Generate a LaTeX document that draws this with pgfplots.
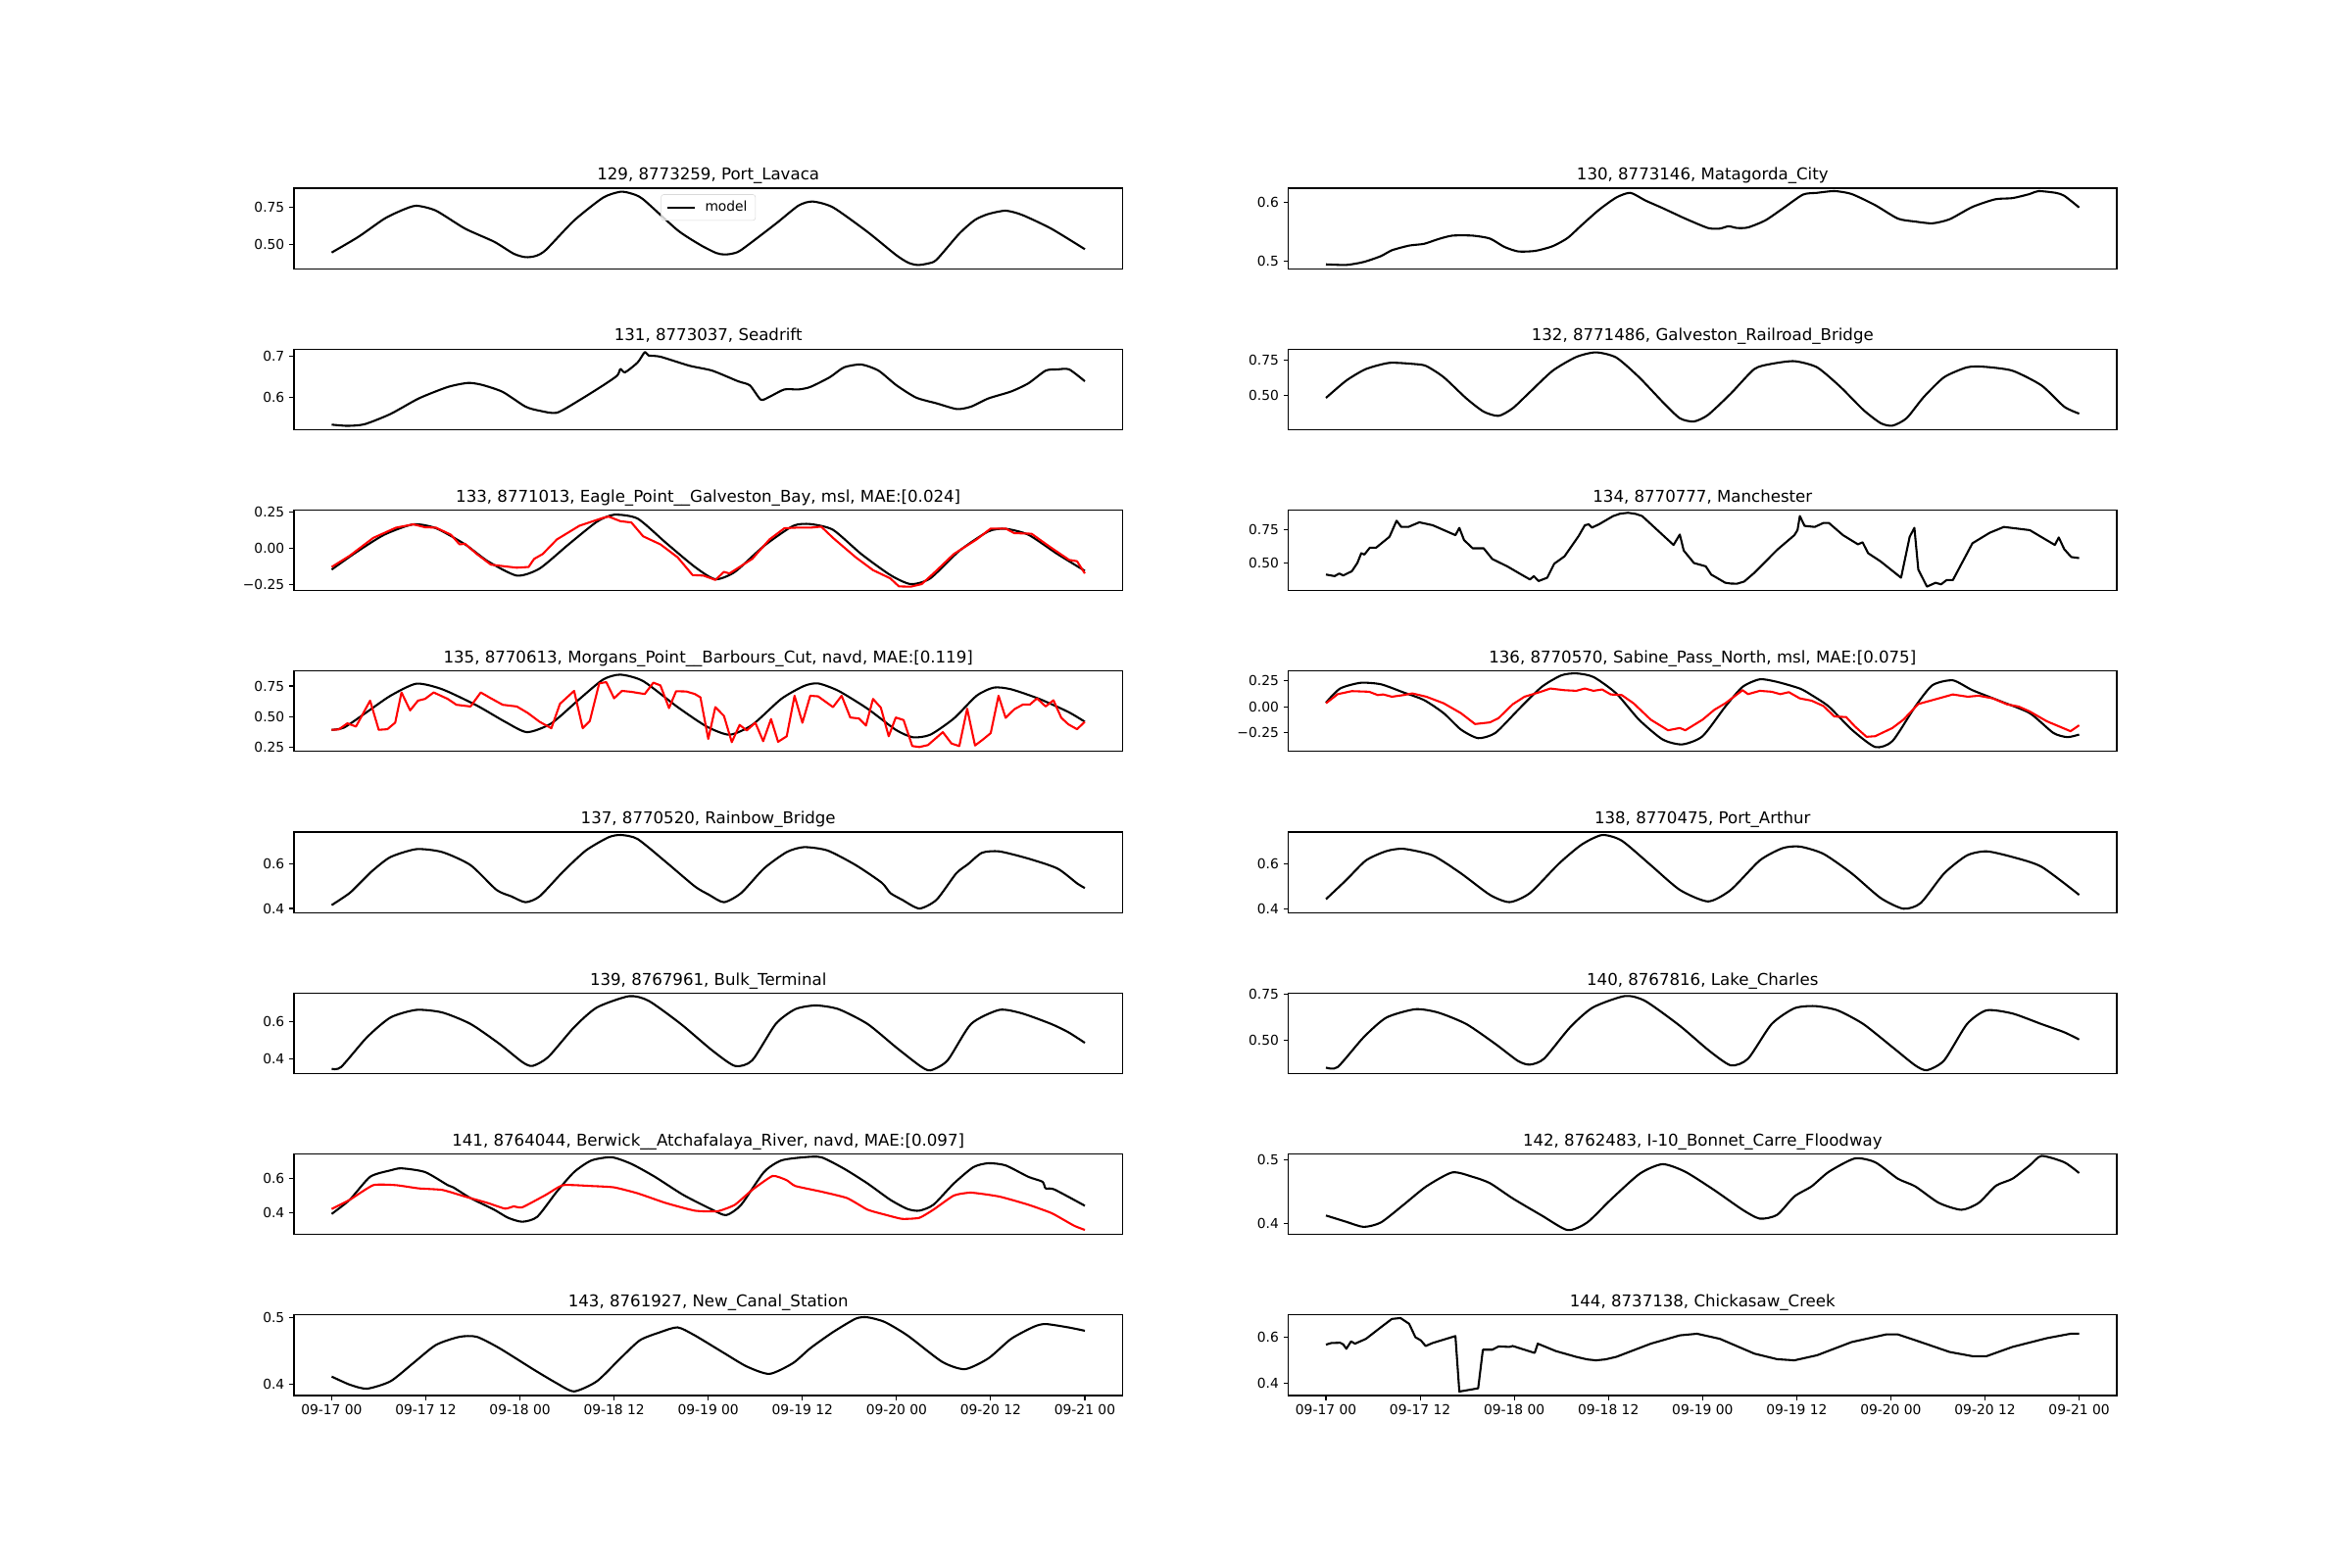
\documentclass[border=0pt]{standalone}
\usepackage{pgfplots}
\pgfplotsset{compat=1.18}
\usepackage{fontspec}
\setmainfont{DejaVu Sans}
\pgfplotsset{
  panel/.style={
    scale only axis, width=608.7bp, height=59.13bp,
    xmin=-4.8, xmax=100.8, xtick=\empty,
    axis line style={line width=0.8pt}, every tick/.style={line width=0.8pt, black},
    major tick length=3.5pt, tick align=outside, ytick pos=left, xtick pos=bottom,
    anchor=north west,
    title style={at={(0.5,1)}, anchor=base, inner sep=0pt, font=\fontsize{12}{14}\selectfont},
    yticklabel style={font=\fontsize{10}{12}\selectfont},
    xticklabel style={font=\fontsize{10}{12}\selectfont},
    every axis plot/.append style={line width=1.5pt, line join=round},
  },
  bottomx/.style={xtick={0,12,...,96}, xticklabels={09-17 00,09-17 12,09-18 00,09-18 12,09-19 00,09-19 12,09-20 00,09-20 12,09-21 00}},
  mod/.style={black, smooth, tension=0.4},
  modsharp/.style={black, sharp plot},
  obs/.style={red, smooth, tension=0.3},
  obssharp/.style={red, sharp plot},
}
\begin{document}
\begin{tikzpicture}
\useasboundingbox (0,0) rectangle (1728bp,1152bp);
% ---------------- left column ----------------
\begin{axis}[panel, at={(216bp,1013.76bp)}, ymin=0.341, ymax=0.876, ytick={0.5,0.75}, yticklabels={0.50,0.75},
  title={129, 8773259, Port\_Lavaca},
  legend style={at={(0.5,1)}, anchor=north, yshift=-4.5pt, draw=black!15, rounded corners=2pt, fill=white, fill opacity=0.8, text opacity=1, font=\fontsize{10}{12}\selectfont, inner xsep=4pt, inner ysep=3pt},
  legend image code/.code={\draw[#1, line width=1.5pt] (0pt,0pt) -- (20pt,0pt); \path (25pt,0pt);}]
\addplot[mod] coordinates {(0,0.448)(3.4,0.552)(6.7,0.672)(9,0.73)(10.8,0.759)(13.3,0.726)(17,0.607)(20.7,0.52)(23.2,0.44)(24.7,0.417)(26,0.425)(27.3,0.465)(30.9,0.661)(34.6,0.813)(36.8,0.852)(38.2,0.84)(39.7,0.802)(44.1,0.596)(47,0.498)(49,0.445)(50,0.435)(51,0.44)(52.2,0.465)(56.6,0.639)(59.5,0.76)(61.3,0.787)(63.9,0.748)(68.3,0.585)(71.9,0.433)(73.5,0.38)(74.7,0.365)(76,0.375)(77.1,0.4)(80,0.574)(82,0.665)(83.7,0.704)(85.9,0.726)(88,0.698)(91.7,0.607)(96,0.470)};
\addlegendentry{model}
\end{axis}

\begin{axis}[panel, at={(216bp,895.49bp)}, ymin=0.5208, ymax=0.7176, ytick={0.6,0.7}, yticklabels={0.6,0.7},
  title={131, 8773037, Seadrift}]
\addplot[mod] coordinates {(0,0.533)(2,0.530)(4.2,0.534)(7.5,0.559)(11.1,0.597)(14.8,0.625)(17.4,0.635)(19.2,0.630)(21.8,0.613)(24.7,0.577)(26.5,0.567)(28.7,0.562)(31.6,0.593)(34.6,0.629)(36.4,0.653)(36.8,0.669)(37.4,0.661)(39,0.685)(39.9,0.710)(40.4,0.702)(41.9,0.699)(45.6,0.677)(48.5,0.665)(51.8,0.639)(53.3,0.629)(54.7,0.594)(55.8,0.601)(57.7,0.619)(59.5,0.619)(61,0.625)(63.5,0.649)(65.3,0.673)(67.5,0.680)(69.7,0.665)(72,0.629)(74.5,0.599)(77.1,0.585)(79.7,0.571)(81.5,0.577)(83.7,0.597)(86.6,0.614)(88.8,0.634)(91,0.665)(92.5,0.668)(94,0.668)(96,0.639)};
\end{axis}

\begin{axis}[panel, at={(216bp,777.22bp)}, ymin=-0.294, ymax=0.265, ytick={-0.25,0,0.25}, yticklabels={−0.25,0.00,0.25},
  title={133, 8771013, Eagle\_Point\_\_Galveston\_Bay, msl, MAE:[0.024]}]
\addplot[mod] coordinates {(0,-0.148)(3.1,-0.029)(6.7,0.094)(10.4,0.166)(13.3,0.139)(17,0.027)(19.9,-0.09)(23.6,-0.19)(26.5,-0.141)(30.2,0.027)(33.8,0.184)(36,0.233)(39,0.206)(42.6,0.038)(46.3,-0.130)(48.9,-0.215)(51.4,-0.164)(55.1,0.016)(58.8,0.155)(61,0.168)(63.9,0.128)(67.5,-0.040)(71.2,-0.186)(73.8,-0.249)(76.3,-0.209)(80,-0.018)(83.7,0.117)(85.9,0.135)(88.8,0.094)(92.5,-0.040)(96,-0.157)};
\addplot[obssharp] coordinates {(0,-0.13)(2.3,-0.052)(5.3,0.072)(8.2,0.143)(10.4,0.166)(11.9,0.146)(13.3,0.143)(15.2,0.094)(16.3,0.027)(17,0.031)(18.5,-0.04)(20.3,-0.114)(22.1,-0.126)(23.6,-0.135)(25.1,-0.13)(25.8,-0.074)(26.9,-0.04)(28.7,0.061)(31.6,0.157)(34.6,0.211)(35.3,0.22)(36.8,0.188)(38.2,0.179)(39.7,0.083)(41.9,0.027)(44.1,-0.063)(46,-0.186)(47.4,-0.19)(48.9,-0.22)(50,-0.164)(50.7,-0.175)(53.6,-0.074)(55.8,0.061)(57.7,0.139)(59.2,0.143)(61,0.143)(62.4,0.15)(63.9,0.072)(66.8,-0.063)(69,-0.152)(71.2,-0.209)(72.3,-0.265)(73.8,-0.267)(75.2,-0.249)(76.7,-0.175)(79.3,-0.04)(82.2,0.061)(84,0.137)(85.9,0.137)(87,0.105)(89.2,0.101)(91.7,0.004)(94,-0.081)(95,-0.09)(96,-0.175)};
\end{axis}

\begin{axis}[panel, at={(216bp,658.95bp)}, ymin=0.213, ymax=0.872, ytick={0.25,0.5,0.75}, yticklabels={0.25,0.50,0.75},
  title={135, 8770613, Morgans\_Point\_\_Barbours\_Cut, navd, MAE:[0.119]}]
\addplot[mod] coordinates {(0,0.391)(1.6,0.41)(4.5,0.537)(7.5,0.670)(10.8,0.769)(14.1,0.723)(18.5,0.590)(22.1,0.457)(24.9,0.372)(28,0.444)(31.6,0.644)(34.6,0.803)(36.8,0.843)(39.7,0.790)(44.1,0.577)(47.8,0.418)(50.7,0.351)(53.6,0.431)(57.3,0.644)(60.2,0.75)(62,0.771)(64.6,0.710)(68.3,0.564)(71.9,0.391)(74.1,0.330)(76.3,0.351)(79.3,0.484)(82.2,0.670)(84.4,0.737)(86.6,0.723)(90.2,0.644)(93.9,0.537)(96,0.457)};
\addplot[obssharp] coordinates {(0,0.391)(0.9,0.394)(2,0.444)(3.1,0.418)(4.9,0.63)(6,0.391)(7.1,0.396)(8.1,0.45)(8.9,0.697)(10,0.55)(11,0.63)(11.9,0.644)(13,0.697)(14.8,0.644)(15.9,0.596)(17.7,0.582)(19,0.697)(20.3,0.649)(21.8,0.596)(23.6,0.582)(25,0.529)(26.5,0.457)(28,0.404)(29.1,0.604)(30.9,0.71)(32,0.404)(32.9,0.463)(34.1,0.771)(35,0.782)(36,0.649)(37,0.71)(38.2,0.702)(39.9,0.684)(41,0.777)(41.9,0.755)(43,0.569)(43.9,0.707)(45.2,0.705)(46.3,0.684)(47,0.657)(48,0.316)(48.9,0.577)(50,0.505)(51,0.29)(52,0.431)(52.9,0.386)(54,0.449)(55,0.298)(56,0.479)(56.9,0.293)(58,0.338)(59,0.670)(60,0.449)(61,0.670)(62,0.665)(63.9,0.577)(65,0.670)(66.1,0.492)(67.2,0.484)(68.1,0.426)(69,0.644)(70,0.572)(71,0.338)(71.9,0.492)(72.9,0.471)(74,0.258)(74.9,0.25)(76,0.266)(77.9,0.372)(79,0.279)(80,0.258)(81,0.564)(82,0.263)(83,0.311)(84,0.364)(85,0.670)(85.9,0.489)(87,0.559)(88.1,0.598)(89,0.598)(89.9,0.649)(91,0.582)(92,0.633)(93,0.489)(93.9,0.436)(95,0.396)(96,0.457)};
\end{axis}

\begin{axis}[panel, at={(216bp,540.68bp)}, ymin=0.382, ymax=0.740, ytick={0.4,0.6}, yticklabels={0.4,0.6},
  title={137, 8770520, Rainbow\_Bridge}]
\addplot[mod] coordinates {(0,0.415)(2.3,0.469)(4.2,0.534)(5.3,0.571)(7.5,0.629)(10.8,0.664)(14.1,0.651)(17.7,0.593)(21,0.483)(22.9,0.454)(24.7,0.428)(26.5,0.454)(29.5,0.564)(32.4,0.658)(35.3,0.717)(36.9,0.727)(39,0.709)(42.6,0.607)(46.3,0.498)(48.1,0.461)(50,0.428)(52.2,0.469)(55.1,0.578)(58,0.651)(60.2,0.673)(63.2,0.658)(66.8,0.593)(70.1,0.515)(71.2,0.469)(72.7,0.439)(74.9,0.4)(77.1,0.439)(79.6,0.556)(81.1,0.597)(82.9,0.648)(85.1,0.654)(88.8,0.622)(92.5,0.578)(95,0.512)(96,0.491)};
\end{axis}

\begin{axis}[panel, at={(216bp,422.41bp)}, ymin=0.320, ymax=0.755, ytick={0.4,0.6}, yticklabels={0.4,0.6},
  title={139, 8767961, Bulk\_Terminal}]
\addplot[mod] coordinates {(0,0.346)(1.2,0.355)(4.5,0.516)(7.5,0.623)(10.8,0.664)(14.1,0.65)(17.7,0.588)(21.4,0.48)(24.3,0.382)(25.6,0.361)(27.6,0.409)(30.9,0.570)(33.8,0.677)(37.9,0.738)(40.4,0.713)(44.5,0.588)(48.5,0.445)(51.4,0.361)(53.6,0.391)(56.6,0.588)(59.1,0.668)(61.7,0.688)(64.6,0.668)(68.3,0.588)(71.9,0.463)(74.9,0.364)(76.3,0.337)(78.5,0.391)(81.5,0.588)(85.1,0.664)(88,0.645)(91.7,0.588)(93.9,0.543)(96,0.486)};
\end{axis}

\begin{axis}[panel, at={(216bp,304.14bp)}, ymin=0.273, ymax=0.746, ytick={0.4,0.6}, yticklabels={0.4,0.6},
  title={141, 8764044, Berwick\_\_Atchafalaya\_River, navd, MAE:[0.097]}]
\addplot[mod] coordinates {(0,0.394)(2.3,0.477)(4.9,0.612)(7.5,0.65)(8.9,0.662)(11.9,0.640)(14.8,0.563)(15.5,0.55)(17.7,0.487)(20.7,0.419)(22.5,0.371)(24.3,0.348)(26.2,0.377)(28.7,0.525)(30.9,0.640)(33.1,0.708)(35.7,0.727)(38.2,0.688)(41.2,0.612)(44.8,0.506)(48.5,0.419)(50.3,0.387)(52.2,0.448)(55.1,0.640)(57.3,0.708)(60.2,0.727)(62.4,0.727)(65.3,0.66)(68.3,0.573)(71.2,0.477)(73.4,0.423)(74.9,0.413)(76.7,0.448)(79.3,0.573)(81.8,0.669)(83.7,0.692)(85.9,0.679)(88.8,0.612)(90.6,0.583)(91,0.544)(92.1,0.538)(96,0.442)};
\addplot[obs] coordinates {(0,0.423)(2.3,0.477)(5.3,0.563)(8.2,0.563)(11.1,0.544)(14.1,0.535)(17,0.496)(19.9,0.458)(22.1,0.425)(23.2,0.438)(24.3,0.433)(27.3,0.506)(29.5,0.563)(33.1,0.558)(36,0.55)(39,0.515)(42.6,0.458)(46.3,0.413)(49.2,0.410)(51.4,0.448)(53.6,0.535)(56.2,0.617)(58,0.592)(59.1,0.558)(62.4,0.525)(65.7,0.487)(68.3,0.419)(70.5,0.390)(72.7,0.365)(74.9,0.371)(76.7,0.419)(79.3,0.502)(81.5,0.519)(85.1,0.496)(88.8,0.448)(91.7,0.4)(93.2,0.362)(94.7,0.323)(96,0.3)};
\end{axis}

\begin{axis}[panel, bottomx, at={(216bp,185.87bp)}, ymin=0.3839, ymax=0.5034, ytick={0.4,0.5}, yticklabels={0.4,0.5},
  title={143, 8761927, New\_Canal\_Station}]
\addplot[mod] coordinates {(0,0.412)(2.3,0.400)(4.5,0.394)(7.5,0.405)(10.4,0.432)(13.3,0.459)(16.3,0.471)(18.5,0.471)(21.4,0.454)(25.8,0.422)(28.7,0.402)(30.9,0.390)(33.8,0.405)(36.8,0.439)(39.3,0.466)(41.9,0.478)(44.1,0.485)(46.3,0.473)(50,0.447)(52.9,0.427)(55.8,0.416)(58.8,0.432)(61,0.454)(63.9,0.478)(66.8,0.498)(68.3,0.5)(70.5,0.493)(73.4,0.473)(77.8,0.434)(80.7,0.423)(83.7,0.439)(86.6,0.468)(89.5,0.486)(91,0.490)(93.9,0.485)(96,0.480)};
\end{axis}

% ---------------- right column ----------------
\begin{axis}[panel, at={(946.5bp,1013.76bp)}, ymin=0.4877, ymax=0.625, ytick={0.5,0.6}, yticklabels={0.5,0.6},
  title={130, 8773146, Matagorda\_City}]
\addplot[mod] coordinates {(0,0.495)(2.6,0.494)(4.8,0.499)(7,0.509)(8.4,0.519)(10.6,0.527)(12.5,0.530)(14.3,0.538)(16.1,0.544)(18.7,0.544)(20.9,0.539)(22.7,0.525)(24.5,0.517)(26.7,0.518)(28.9,0.526)(30.8,0.540)(32.6,0.562)(34.8,0.588)(37,0.609)(38.8,0.617)(40.7,0.604)(42.9,0.591)(45.8,0.573)(48.7,0.557)(50.2,0.556)(51.3,0.560)(52.4,0.557)(53.8,0.558)(56,0.570)(58.2,0.590)(60.8,0.614)(62.6,0.617)(64.8,0.620)(67,0.615)(70,0.596)(72.9,0.573)(75.1,0.568)(77.3,0.565)(79.5,0.572)(82.4,0.593)(85.3,0.606)(87.5,0.608)(89.7,0.615)(90.8,0.620)(93,0.617)(94.1,0.612)(96,0.592)};
\end{axis}

\begin{axis}[panel, at={(946.5bp,895.49bp)}, ymin=0.255, ymax=0.829, ytick={0.5,0.75}, yticklabels={0.50,0.75},
  title={132, 8771486, Galveston\_Railroad\_Bridge}]
\addplot[mod] coordinates {(0,0.481)(2.6,0.605)(5.1,0.687)(8.1,0.731)(11.4,0.722)(12.8,0.708)(15,0.629)(17.9,0.477)(20.1,0.383)(22,0.353)(23.8,0.407)(26,0.523)(28.9,0.675)(31.9,0.773)(34.4,0.806)(37,0.769)(39.9,0.629)(42.9,0.453)(45.1,0.336)(46.9,0.313)(48.7,0.360)(51.6,0.512)(54.6,0.687)(56.8,0.724)(59.7,0.743)(62.6,0.699)(65.6,0.558)(68.5,0.395)(70.7,0.301)(72.2,0.283)(74,0.336)(76.2,0.488)(78.8,0.629)(81.7,0.699)(83.9,0.703)(87.5,0.675)(91.2,0.570)(94.1,0.418)(96,0.369)};
\end{axis}

\begin{axis}[panel, at={(946.5bp,777.22bp)}, ymin=0.292, ymax=0.899, ytick={0.5,0.75}, yticklabels={0.50,0.75},
  title={134, 8770777, Manchester}]
\addplot[modsharp] coordinates {(0,0.413)(1.1,0.401)(1.7,0.421)(2.2,0.406)(3.3,0.438)(4,0.5)(4.5,0.574)(4.9,0.564)(5.6,0.616)(6.4,0.616)(8.1,0.698)(9,0.819)(9.6,0.772)(10.5,0.772)(11.9,0.807)(13.6,0.785)(16.5,0.710)(17,0.765)(17.6,0.673)(18.7,0.611)(20.1,0.611)(21.2,0.530)(23.1,0.475)(24.9,0.413)(26,0.376)(26.5,0.401)(27.1,0.364)(28.2,0.389)(29.1,0.495)(30.4,0.550)(32.2,0.703)(33,0.785)(33.5,0.792)(33.9,0.767)(34.8,0.792)(36.6,0.854)(37.5,0.872)(38.5,0.879)(39.5,0.870)(40.3,0.854)(44.3,0.636)(45.1,0.715)(45.6,0.594)(46.9,0.5)(48.4,0.475)(49.1,0.413)(50.9,0.351)(51.6,0.345)(52.4,0.344)(53.3,0.36)(54.6,0.426)(57.5,0.599)(59.7,0.710)(60.1,0.748)(60.4,0.854)(61,0.780)(62.3,0.772)(63.4,0.802)(64.1,0.802)(65.9,0.710)(67.8,0.641)(68.4,0.656)(69.1,0.574)(70.7,0.512)(73.3,0.389)(74.4,0.698)(75,0.765)(75.5,0.450)(76.6,0.322)(77.7,0.351)(78.4,0.339)(79.1,0.371)(79.9,0.371)(82.4,0.649)(84.6,0.728)(86.4,0.772)(89.7,0.748)(92.9,0.636)(93.4,0.693)(94.1,0.604)(95,0.545)(96,0.537)};
\end{axis}

\begin{axis}[panel, at={(946.5bp,658.95bp)}, ymin=-0.430, ymax=0.345, ytick={-0.25,0,0.25}, yticklabels={−0.25,0.00,0.25},
  title={136, 8770570, Sabine\_Pass\_North, msl, MAE:[0.075]}]
\addplot[mod] coordinates {(0,0.041)(1.8,0.177)(4.4,0.232)(7,0.218)(9.9,0.139)(12.5,0.066)(15,-0.060)(17.2,-0.218)(19.4,-0.301)(21.6,-0.25)(24.5,-0.028)(27.5,0.193)(30,0.304)(31.9,0.323)(34.1,0.288)(37,0.130)(39.9,-0.123)(42.9,-0.313)(45.4,-0.361)(48,-0.282)(50.9,0.003)(53.1,0.193)(55.3,0.266)(57.5,0.241)(60.4,0.177)(61.9,0.114)(64.1,0.003)(67,-0.218)(70,-0.386)(72.2,-0.329)(75.1,0.003)(77.3,0.209)(79.9,0.256)(82.4,0.161)(86.1,0.051)(89.7,-0.060)(92.7,-0.250)(94.5,-0.291)(96,-0.266)};
\addplot[obssharp] coordinates {(0,0.035)(1.5,0.123)(3.3,0.152)(5.5,0.146)(6.6,0.114)(7.3,0.120)(8.4,0.098)(9.9,0.114)(11,0.130)(12.8,0.098)(15,0.035)(17.2,-0.060)(19,-0.165)(20.9,-0.149)(22,-0.108)(23.8,0.025)(25.3,0.098)(27.1,0.139)(28.6,0.177)(30.4,0.161)(31.9,0.155)(33,0.177)(34.1,0.155)(35.2,0.168)(36.3,0.120)(37.7,0.114)(39.2,0.035)(41.4,-0.123)(43.6,-0.225)(45.1,-0.203)(45.8,-0.225)(48,-0.123)(49.5,-0.028)(50.9,0.035)(53.1,0.161)(53.8,0.123)(55.3,0.155)(56.8,0.146)(57.9,0.123)(59,0.142)(60.4,0.082)(61.9,0.060)(63.4,0.009)(64.8,-0.092)(66.3,-0.098)(67.4,-0.187)(68.9,-0.288)(70,-0.282)(72.2,-0.203)(73.6,-0.123)(75.5,0.028)(78.1,0.082)(79.9,0.120)(81.8,0.098)(83.2,0.108)(85,0.082)(86.8,0.025)(88.3,0.003)(89.7,-0.044)(91.9,-0.139)(94.9,-0.234)(96,-0.177)};
\end{axis}

\begin{axis}[panel, at={(946.5bp,540.68bp)}, ymin=0.384, ymax=0.739, ytick={0.4,0.6}, yticklabels={0.4,0.6},
  title={138, 8770475, Port\_Arthur}]
\addplot[mod] coordinates {(0,0.443)(2.6,0.528)(5.1,0.614)(7.7,0.655)(9.9,0.665)(13.6,0.636)(17.2,0.557)(20.9,0.462)(23.4,0.430)(26,0.470)(29.7,0.6)(32.6,0.684)(35.2,0.726)(37.7,0.701)(41.4,0.593)(45.1,0.484)(48.7,0.433)(51.6,0.484)(55.3,0.614)(58.2,0.668)(60.4,0.675)(63.4,0.643)(67,0.557)(70.7,0.448)(73.6,0.401)(75.8,0.426)(78.8,0.557)(81.7,0.636)(84.2,0.654)(87.5,0.629)(91.2,0.586)(96,0.462)};
\end{axis}

\begin{axis}[panel, at={(946.5bp,422.41bp)}, ymin=0.321, ymax=0.754, ytick={0.5,0.75}, yticklabels={0.50,0.75},
  title={140, 8767816, Lake\_Charles}]
\addplot[mod] coordinates {(0,0.353)(1.5,0.356)(4.8,0.516)(7.7,0.622)(11.4,0.667)(14.3,0.649)(17.9,0.587)(21.6,0.480)(24.5,0.388)(26,0.369)(27.8,0.401)(31.1,0.569)(34,0.676)(38.1,0.738)(40.7,0.711)(45.1,0.578)(48.8,0.445)(51.6,0.365)(53.8,0.401)(56.8,0.587)(59.7,0.672)(62.3,0.684)(65.2,0.661)(68.5,0.587)(72.2,0.463)(75.1,0.365)(76.6,0.339)(78.8,0.392)(81.7,0.587)(84.2,0.661)(87.5,0.644)(91.2,0.587)(94.1,0.543)(96,0.504)};
\end{axis}

\begin{axis}[panel, at={(946.5bp,304.14bp)}, ymin=0.382, ymax=0.509, ytick={0.4,0.5}, yticklabels={0.4,0.5},
  title={142, 8762483, I-10\_Bonnet\_Carre\_Floodway}]
\addplot[mod] coordinates {(0,0.412)(2.6,0.402)(4.8,0.394)(7,0.401)(9.9,0.429)(12.8,0.458)(16.1,0.480)(18.7,0.473)(20.9,0.463)(23.8,0.439)(27.5,0.412)(30.8,0.389)(33.3,0.401)(36.3,0.437)(40,0.478)(42.9,0.493)(45.8,0.481)(49.5,0.452)(53.1,0.421)(55.3,0.407)(57.5,0.413)(59.7,0.442)(61.9,0.458)(64.1,0.481)(67.4,0.502)(70,0.496)(72.9,0.470)(75.1,0.458)(78.1,0.432)(81,0.421)(83.2,0.432)(85.4,0.459)(87.5,0.470)(89.7,0.491)(91.2,0.506)(94.1,0.496)(96,0.479)};
\end{axis}

\begin{axis}[panel, bottomx, at={(946.5bp,185.87bp)}, ymin=0.349, ymax=0.697, ytick={0.4,0.6}, yticklabels={0.4,0.6},
  title={144, 8737138, Chickasaw\_Creek}]
\addplot[modsharp] coordinates {(0,0.569)(0.7,0.576)(1.8,0.577)(2.2,0.570)(2.6,0.551)(3.2,0.583)(3.7,0.573)(5.1,0.594)(7,0.644)(8.4,0.68)(9.5,0.684)(10.6,0.659)(11.4,0.601)(12.1,0.587)(12.7,0.563)(13.6,0.576)(16.5,0.606)(17,0.366)(19.4,0.380)(20,0.547)(21.2,0.547)(22,0.561)(23.4,0.559)(23.8,0.563)(26.6,0.533)(27,0.573)(29.3,0.541)(31.9,0.516)(33.3,0.505)(34.4,0.501)(35.6,0.505)(37,0.516)(41.4,0.573)(45.1,0.609)(47.3,0.616)(50.2,0.594)(54.6,0.530)(57.5,0.506)(59.7,0.501)(62.6,0.523)(67,0.580)(71.4,0.613)(72.9,0.613)(75.8,0.580)(79.5,0.537)(82.4,0.519)(84.2,0.519)(87.5,0.559)(91.9,0.597)(94.9,0.616)(96,0.616)};
\end{axis}
\end{tikzpicture}
\end{document}
